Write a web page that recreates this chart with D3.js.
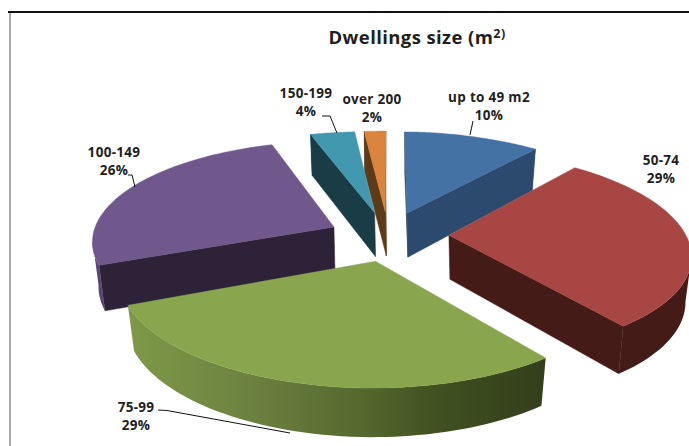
<!DOCTYPE html>
<html>
<head>
<meta charset="utf-8">
<script src="https://cdn.jsdelivr.net/npm/d3@7/dist/d3.min.js"></script>
<style>
  html, body { margin: 0; padding: 0; background: #fff; }
  svg { display: block; }
  text { font-family: "Open Sans", "Noto Sans", sans-serif; font-weight: 700; fill: #1f1f1f; }
</style>
</head>
<body>
<script>
// Dwelling size shares
const categories = ["up to 49 m2", "50-74", "75-99", "100-149", "150-199", "over 200"];
const shares = [10, 29, 29, 26, 4, 2];
const topColors = ["#4472a4", "#a84644", "#89a54e", "#70588c", "#4198af", "#db843d"];
const sideColors = ["#2c4a6e", "#451b18", "#4f6030", "#2e2238", "#1a3c46", "#5e3a18"];
const wallColors = ["#2c4a6e", "#451b18", "#5e7236", "#5a4670", "#1a3c46", "#5e3a18"];

// Camera and layout for the tilted pie (world units: pie radius = 1)
const width = 689, height = 446;
const centre = { x: 389, y: 236 };
const radius = { x: 240, y: 99.6 };
const explodeBy = 0.25;
const perspective = 0.149;
const yaw = 8;
const roll = 5;
const thickness = 44;

// Label placement: text centre, first baseline, and leader polyline
const labelLayout = [
  { x: 489, y: 102, leader: [[470, 135], [473, 121]] },
  { x: 661, y: 165, leader: null },
  { x: 136, y: 412, leader: [[158, 410], [167, 410.5], [290, 433]] },
  { x: 114, y: 157, leader: [[135, 187], [132, 175], [128, 175]] },
  { x: 306, y: 98, leader: [[337, 133], [330, 116], [322, 116]] },
  { x: 372, y: 104, leader: null }
];

const svg = d3.select("body").append("svg")
  .attr("width", width).attr("height", height).attr("viewBox", [0, 0, width, height]);

// Frame lines along the top and left
svg.append("line").attr("x1", 10).attr("x2", 10).attr("y1", 13).attr("y2", height)
  .attr("stroke", "#a8a8a8").attr("stroke-width", 2);
svg.append("line").attr("x1", 8).attr("x2", width).attr("y1", 12).attr("y2", 12)
  .attr("stroke", "#111").attr("stroke-width", 2.2);

// Horizontal shading across the front wall of the largest front slice
const defs = svg.append("defs");
const wallGrad = defs.append("linearGradient").attr("id", "frontWall")
  .attr("gradientUnits", "userSpaceOnUse").attr("x1", 125).attr("x2", 545).attr("y1", 0).attr("y2", 0);
[[0, "#7f9a48"], [0.3, "#6c8140"], [0.55, "#566a30"], [0.75, "#40501f"], [1, "#333f1c"]]
  .forEach(([o, c]) => wallGrad.append("stop").attr("offset", o).attr("stop-color", c));

const pie = d3.pie().sort(null).value(d => d)(shares);
const line = d3.line();

// World position on the ground plane to screen position
function project(wx, wy, skew) {
  const s = 1 / (1 + perspective * wy);
  return [
    centre.x + radius.x * wx * s + yaw * wy * skew,
    centre.y - radius.y * wy * s + roll * wx * skew
  ];
}

function sliceGeometry(d) {
  const mid = (d.startAngle + d.endAngle) / 2;
  const ox = explodeBy * Math.sin(mid), oy = explodeBy * Math.cos(mid);
  const apex = project(ox, oy, 0);
  const steps = d3.range(0, 61).map(i => d.startAngle + (d.endAngle - d.startAngle) * i / 60);
  const top = steps.map(t => project(ox + Math.sin(t), oy + Math.cos(t), Math.min(1, 3 * Math.abs(Math.sin(t)))));
  // The lower rim narrows sideways and spreads downward as it drops away from the camera
  const bottom = top.map(p => [
    apex[0] + (p[0] - apex[0]) * 0.975,
    apex[1] + thickness + (p[1] - apex[1]) * 1.04
  ]);
  return { apex, apexLow: [apex[0] + 1, apex[1] + thickness], top, bottom };
}

// Slices are painted from the back of the pie to the front
const paintOrder = [5, 4, 0, 3, 1, 2];
const g = svg.append("g");

paintOrder.forEach(i => {
  const geo = sliceGeometry(pie[i]);
  const outline = [geo.apex, ...geo.top];
  const slice = g.append("g");

  // A side face shows only where the ground below its edge falls outside the top surface
  const faceShows = (a, b) => {
    const m = [(a[0] + b[0]) / 2, (a[1] + b[1]) / 2 + 3];
    return !d3.polygonContains(outline, m);
  };

  const lastIdx = geo.top.length - 1;
  [[geo.top[0], geo.bottom[0]], [geo.top[lastIdx], geo.bottom[lastIdx]]].forEach(([a, b]) => {
    if (faceShows(geo.apex, a)) {
      slice.append("path")
        .attr("d", line([geo.apex, a, b, geo.apexLow]) + "Z")
        .attr("fill", sideColors[i]).attr("stroke", sideColors[i]).attr("stroke-width", 0.5);
    }
  });

  // Outer wall, built only from the rim segments that face the viewer
  let run = [];
  const flush = () => {
    if (run.length > 1) {
      const upper = run.map(k => geo.top[k]);
      const lower = run.map(k => geo.bottom[k]).reverse();
      slice.append("path").attr("d", line([...upper, ...lower]) + "Z")
        .attr("fill", i === 2 ? "url(#frontWall)" : wallColors[i]);
    }
    run = [];
  };
  geo.top.forEach((p, k) => {
    if (k < lastIdx && faceShows(p, geo.top[k + 1])) {
      run.push(k);
    } else {
      if (run.length) run.push(k);
      flush();
    }
  });
  flush();

  slice.append("path").attr("d", line(outline) + "Z")
    .attr("fill", topColors[i]).attr("stroke", topColors[i]).attr("stroke-width", 0.4);
});

// Title with a raised unit exponent
const title = svg.append("text").attr("x", 417).attr("y", 44)
  .attr("text-anchor", "middle").attr("font-size", 18.5).attr("letter-spacing", 0.4);
title.append("tspan").text("Dwellings size (m");
title.append("tspan").attr("dy", -6).attr("font-size", 12.5).text("2)");

// Leaders and category labels
labelLayout.forEach((l, i) => {
  if (l.leader) {
    svg.append("path").attr("d", line(l.leader)).attr("fill", "none")
      .attr("stroke", "#111").attr("stroke-width", 1);
  }
  const t = svg.append("text").attr("text-anchor", "middle").attr("font-size", 13.5)
    .attr("letter-spacing", 0.3);
  t.append("tspan").attr("x", l.x).attr("y", l.y).text(categories[i]);
  t.append("tspan").attr("x", l.x).attr("y", l.y + 18).text(shares[i] + "%");
});
</script>
</body>
</html>
